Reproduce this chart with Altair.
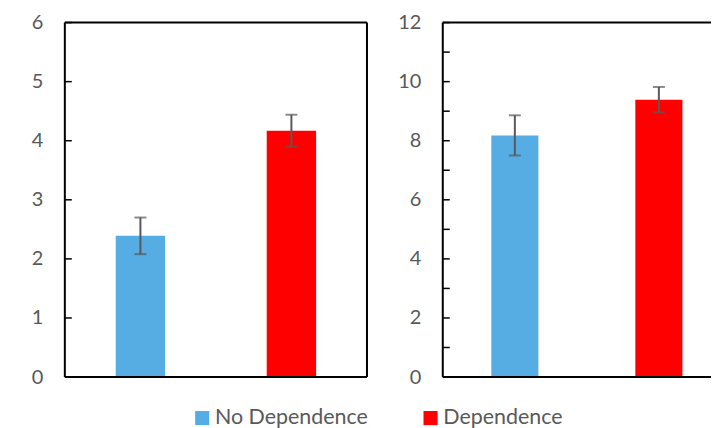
import altair as alt
import pandas as pd

categories = ["No Dependence", "Dependence"]
colors = ["#56ADE3", "#FF0000"]

left_means = [2.39, 4.17]
left_errors = [0.31, 0.27]
left_ticks = [0, 1, 2, 3, 4, 5, 6]

right_means = [8.18, 9.39]
right_errors = [0.68, 0.43]
right_ticks = [0, 1, 2, 3, 4, 5, 6, 7, 8, 9, 10, 11, 12]
right_labels = [0, 2, 4, 6, 8, 10, 12]

FONT = "Lato"
GRAY = "#595959"
FS = 20
LFS = 21.5
H = 369.5


def panel(means, errors, ticks, labels, ymax, width, xrange, ytop):
    df = pd.DataFrame({"cat": categories, "mean": means, "err": errors})
    df["lo"] = df["mean"] - df["err"]
    df["hi"] = df["mean"] + df["err"]
    tdf = pd.DataFrame({"t": ticks})
    one = pd.DataFrame({"k": [0]})

    if xrange is None:
        xs = alt.Scale(domain=categories, paddingInner=0.673, paddingOuter=0.337)
    else:
        xs = alt.Scale(domain=categories, range=xrange, paddingInner=0.673, paddingOuter=0.337)
    ys = alt.Scale(domain=[0, ymax], range=[H, ytop], nice=False, zero=True)
    x = alt.X("cat:N", scale=xs, axis=None, sort=categories)

    base = alt.Chart(df)
    bars = base.mark_bar().encode(
        x=x,
        y=alt.Y(
            "mean:Q",
            scale=ys,
            axis=alt.Axis(
                values=labels, format="d", ticks=False, domain=False, grid=False,
                labelFontSize=FS, labelFont=FONT, labelColor=GRAY,
                labelPadding=22, title=None, minExtent=57, maxExtent=57,
            ),
        ),
        color=alt.Color(
            "cat:N",
            scale=alt.Scale(domain=categories, range=colors),
            sort=categories,
            legend=alt.Legend(
                orient="none", legendX=127, legendY=399.5, direction="horizontal",
                title=None, symbolType="square", symbolSize=200, symbolStrokeWidth=0,
                labelFontSize=LFS, labelFont=FONT, labelColor=GRAY,
                columnPadding=51, labelOffset=2,
            ),
        ),
    )
    err = base.mark_rule(color=GRAY, strokeWidth=2).encode(
        x=x, y=alt.Y("lo:Q", scale=ys), y2="hi:Q"
    )
    cap_lo = base.mark_tick(color=GRAY, thickness=2, size=12).encode(
        x=x, y=alt.Y("lo:Q", scale=ys)
    )
    cap_hi = base.mark_tick(color=GRAY, thickness=2, size=12).encode(
        x=x, y=alt.Y("hi:Q", scale=ys)
    )
    tk = alt.Chart(tdf).mark_rule(color="black", strokeWidth=1.5).encode(
        y=alt.Y("t:Q", scale=ys), x=alt.value(0), x2=alt.value(7)
    )
    bl = alt.Chart(one).mark_rule(color="black", strokeWidth=2).encode(
        x=alt.value(0), y=alt.value(ytop), y2=alt.value(H)
    )
    bb = alt.Chart(one).mark_rule(color="black", strokeWidth=2).encode(
        x=alt.value(0), x2=alt.value(width), y=alt.value(H)
    )
    bt = alt.Chart(one).mark_rule(color="black", strokeWidth=2).encode(
        x=alt.value(0), x2=alt.value(width), y=alt.value(ytop)
    )
    layers = [bars, err, cap_lo, cap_hi, tk, bl, bb, bt]
    if xrange is None:
        br = alt.Chart(one).mark_rule(color="black", strokeWidth=2).encode(
            x=alt.value(width), y=alt.value(ytop), y2=alt.value(H)
        )
        layers.append(br)
    return alt.layer(*layers).properties(width=width, height=H)


left = panel(left_means, left_errors, left_ticks, left_ticks, 6, 303, None, 14)
right = panel(right_means, right_errors, right_ticks, right_labels, 12, 269, [0, 289], 14)

chart = (
    alt.hconcat(left, right, spacing=18)
    .resolve_scale(x="independent", y="independent", color="shared")
    .properties(padding={"left": 0, "top": 0, "right": 0, "bottom": 0})
    .configure_view(stroke=None)
)

chart.save("out.html", embed_options={"renderer": "svg", "actions": False})
